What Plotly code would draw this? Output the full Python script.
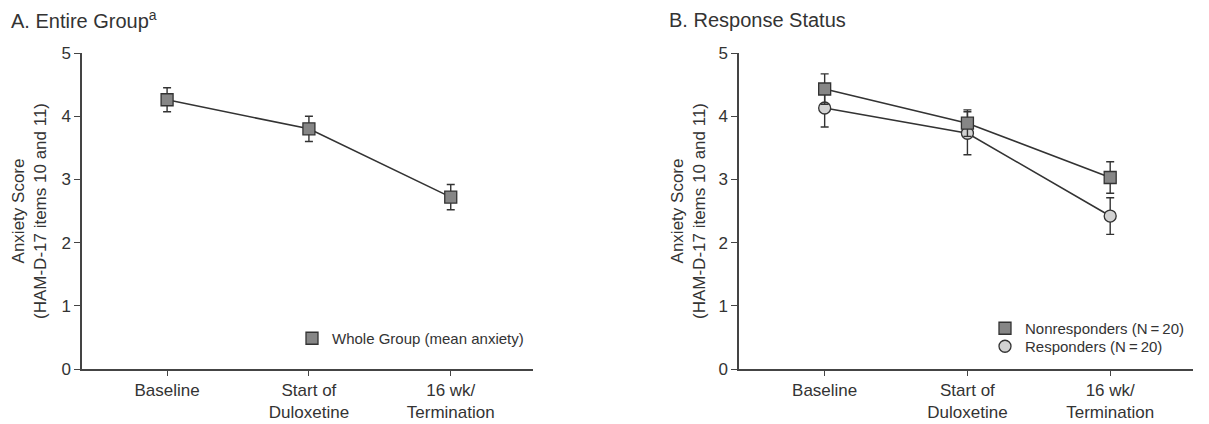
import plotly.graph_objects as go

categories = ["Baseline", "Start of<br>Duloxetine", "16 wk/<br>Termination"]
x_pos = [0, 1, 2]

whole_mean = [4.26, 3.80, 2.72]
whole_err = [0.19, 0.20, 0.20]

nonresp_mean = [4.43, 3.89, 3.03]
nonresp_err = [0.24, 0.21, 0.25]

resp_mean = [4.13, 3.73, 2.42]
resp_err = [0.30, 0.34, 0.29]

y_ticks = [0, 1, 2, 3, 4, 5]

FONT = "Liberation Sans, Arial, Helvetica, sans-serif"
TXT = "#333333"
DARK = "#333333"

fig = go.Figure()

def add_series(xa, ya, y, err, symbol, fill, name, legend):
    fig.add_trace(go.Scatter(
        x=x_pos, y=y, mode="lines", xaxis=xa, yaxis=ya,
        line=dict(color=DARK, width=1.6), showlegend=False, hoverinfo="skip"))
    fig.add_trace(go.Scatter(
        x=x_pos, y=y, mode="markers", xaxis=xa, yaxis=ya, name=name, legend=legend,
        marker=dict(symbol=symbol, size=12, color=fill, line=dict(color=DARK, width=1.3)),
        error_y=dict(type="data", array=err, visible=True, color=DARK, thickness=1.4, width=4)))

add_series("x", "y", whole_mean, whole_err, "square", "#868686", "Whole Group (mean anxiety)", "legend")
add_series("x2", "y2", resp_mean, resp_err, "circle", "#d2d2d2", "Responders (N\u2009=\u200920)", "legend3")
add_series("x2", "y2", nonresp_mean, nonresp_err, "square", "#868686", "Nonresponders (N\u2009=\u200920)", "legend2")

xcommon = dict(range=[-0.6, 2.58], tickvals=x_pos, ticktext=categories, showgrid=False, zeroline=False,
               showline=True, linecolor="#444444", linewidth=1.5, ticks="outside", ticklen=5,
               tickcolor="#444444", tickfont=dict(family=FONT, size=17, color=TXT), fixedrange=True,
               automargin=False)
ycommon = dict(range=[0, 5], tickvals=y_ticks, showgrid=False, zeroline=False,
               showline=True, linecolor="#444444", linewidth=1.5, ticks="outside", ticklen=6,
               tickcolor="#444444", tickfont=dict(family=FONT, size=17, color=TXT), fixedrange=True,
               automargin=False)

legcommon = dict(xanchor="left", yanchor="top", bgcolor="rgba(0,0,0,0)",
                 font=dict(family=FONT, size=15, color=TXT), itemwidth=30)

fig.update_layout(
    width=1209, height=424,
    margin=dict(l=0, r=0, t=0, b=0, autoexpand=False),
    paper_bgcolor="white", plot_bgcolor="white",
    font=dict(family=FONT, color=TXT),
    xaxis=dict(domain=[82/1209, 533/1209], anchor="y", **xcommon),
    yaxis=dict(domain=[1-369/424, 1-53/424], anchor="x", **ycommon),
    xaxis2=dict(domain=[739/1209, 1193/1209], anchor="y2", **xcommon),
    yaxis2=dict(domain=[1-369/424, 1-53/424], anchor="x2", **ycommon),
    legend=dict(x=292/1209, y=1-322/424, **legcommon),
    legend2=dict(x=985/1209, y=1-312/424, **legcommon),
    legend3=dict(x=985/1209, y=1-330/424, **legcommon),
    showlegend=True,
)

ann = [
    dict(text="A. Entire Group<sup>a</sup>", x=9/1209, y=1-20/424, xanchor="left", yanchor="middle",
         font=dict(size=20)),
    dict(text="B. Response Status", x=667/1209, y=1-20/424, xanchor="left", yanchor="middle",
         font=dict(size=20)),
    dict(text="Anxiety Score<br>(HAM-D-17 items 10 and 11)", x=29/1209, y=1-211/424, textangle=-90,
         xanchor="center", yanchor="middle", font=dict(size=17)),
    dict(text="Anxiety Score<br>(HAM-D-17 items 10 and 11)", x=688/1209, y=1-211/424, textangle=-90,
         xanchor="center", yanchor="middle", font=dict(size=17)),
]
for a in ann:
    a.update(xref="paper", yref="paper", showarrow=False)
    a["font"].update(family=FONT, color=TXT)
fig.update_layout(annotations=ann)

fig.write_html("out.html", config={"displayModeBar": False},
               post_script="document.body.style.margin='0px';document.body.style.overflow='hidden';")
